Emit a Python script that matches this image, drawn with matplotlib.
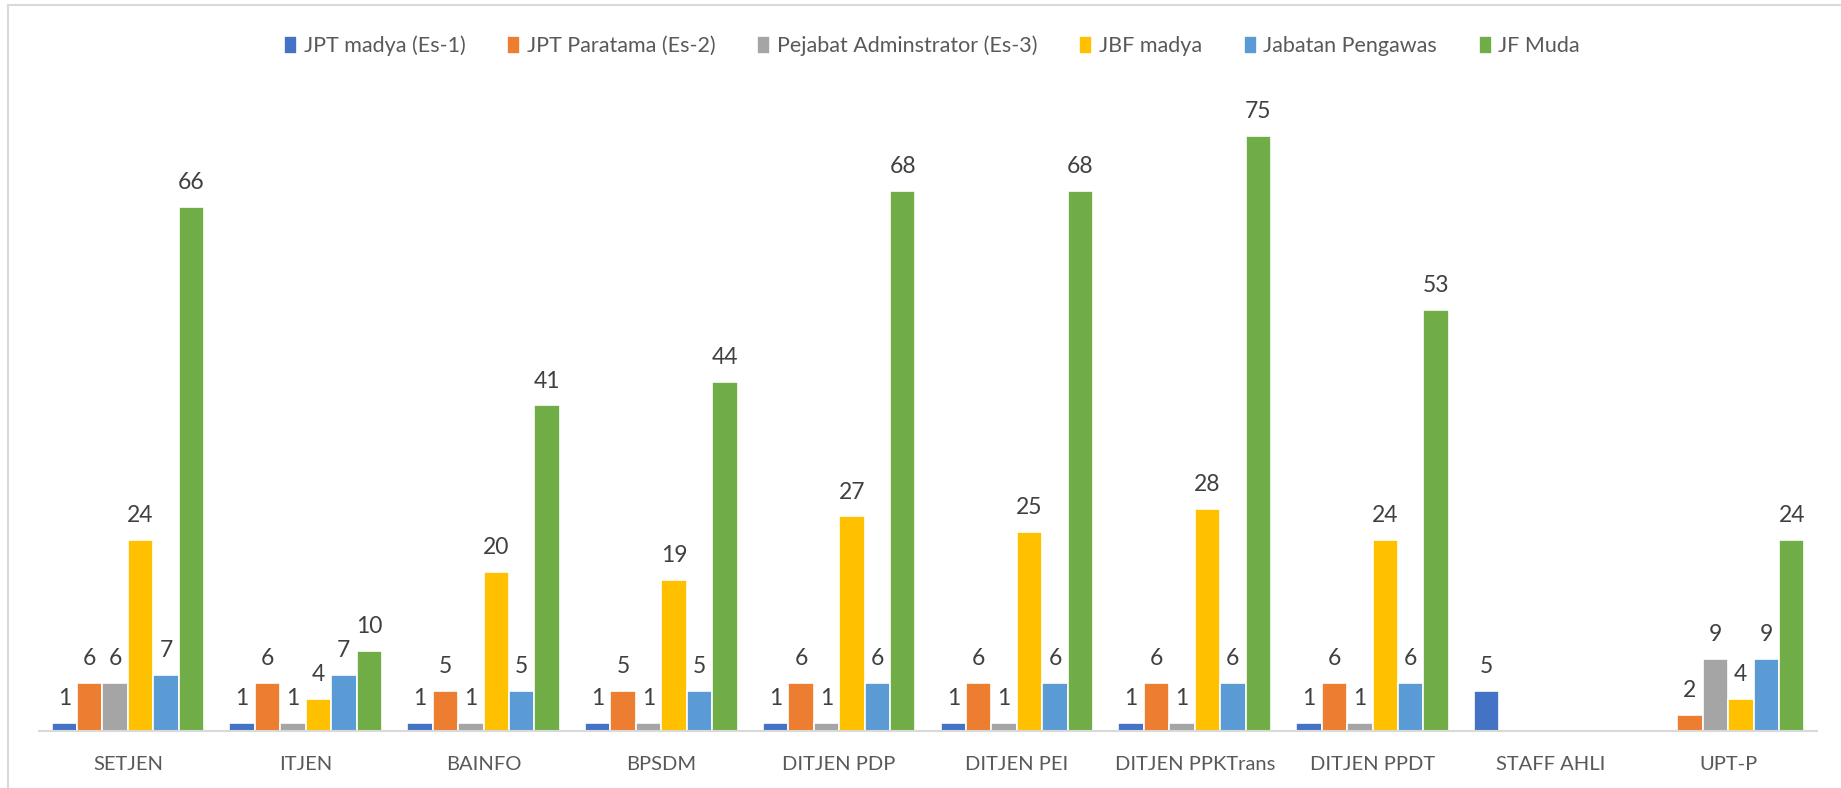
import numpy as np
import matplotlib.pyplot as plt
from matplotlib.lines import Line2D

plt.rcParams['font.family'] = ['Lato', 'DejaVu Sans']

categories = ["SETJEN", "ITJEN", "BAINFO", "BPSDM", "DITJEN PDP", "DITJEN PEI",
              "DITJEN PPKTrans", "DITJEN PPDT", "STAFF AHLI", "UPT-P"]
series_names = ["JPT madya (Es-1)", "JPT Paratama (Es-2)", "Pejabat Adminstrator (Es-3)",
                "JBF madya", "Jabatan Pengawas", "JF Muda"]
nan = np.nan
jpt_madya = [1, 1, 1, 1, 1, 1, 1, 1, 5, nan]
jpt_paratama = [6, 6, 5, 5, 6, 6, 6, 6, nan, 2]
pejabat_adm = [6, 1, 1, 1, 1, 1, 1, 1, nan, 9]
jbf_madya = [24, 4, 20, 19, 27, 25, 28, 24, nan, 4]
pengawas = [7, 7, 5, 5, 6, 6, 6, 6, nan, 9]
jf_muda = [66, 10, 41, 44, 68, 68, 75, 53, nan, 24]
colors = ["#4472C4", "#ED7D31", "#A5A5A5", "#FFC000", "#5B9BD5", "#70AD47"]

data = [jpt_madya, jpt_paratama, pejabat_adm, jbf_madya, pengawas, jf_muda]

fig = plt.figure(figsize=(18.41, 7.88), dpi=100)
ax = fig.add_axes([39 / 1841, 57.3 / 788, 1778 / 1841, 634.7 / 788])

x = np.arange(len(categories))
w = 0.143
for i, (vals, name, c) in enumerate(zip(data, series_names, colors)):
    pos = x + (i - 2.5) * w
    v = np.array(vals, dtype=float)
    ax.bar(pos, v, width=w, color=c, edgecolor="white", linewidth=1.2, label=name)
    for xp, val in zip(pos, v):
        if not np.isnan(val):
            ax.annotate(f"{int(val)}", (xp, val), xytext=(0, 10), textcoords="offset points",
                        ha="center", va="bottom", fontsize=16.5, color="#404040")

ax.set_xlim(-0.5, len(categories) - 0.5)
ax.set_ylim(0, 80)
ax.set_yticks([])
ax.set_xticks(x)
ax.set_xticklabels(categories, fontsize=14.5, color="#595959")
ax.tick_params(axis="x", length=0, pad=18)
for s in ["top", "right", "left"]:
    ax.spines[s].set_visible(False)
ax.spines["bottom"].set_color("#D9D9D9")
ax.spines["bottom"].set_linewidth(1.5)

fig.legend(loc="center", bbox_to_anchor=(932 / 1841, 1 - 46 / 788), ncol=6, frameon=False,
           fontsize=15.5, labelcolor="#595959", handlelength=0.6, handleheight=0.9,
           handletextpad=0.3, columnspacing=1.95)

# chart border (top and left visible)
fig.add_artist(Line2D([8 / 1841, 8 / 1841], [0, 1 - 5 / 788], transform=fig.transFigure,
                      color="#D9D9D9", linewidth=1.5))
fig.add_artist(Line2D([8 / 1841, 1], [1 - 5 / 788, 1 - 5 / 788], transform=fig.transFigure,
                      color="#D9D9D9", linewidth=1.5))

fig.savefig("out.png", dpi=100)
